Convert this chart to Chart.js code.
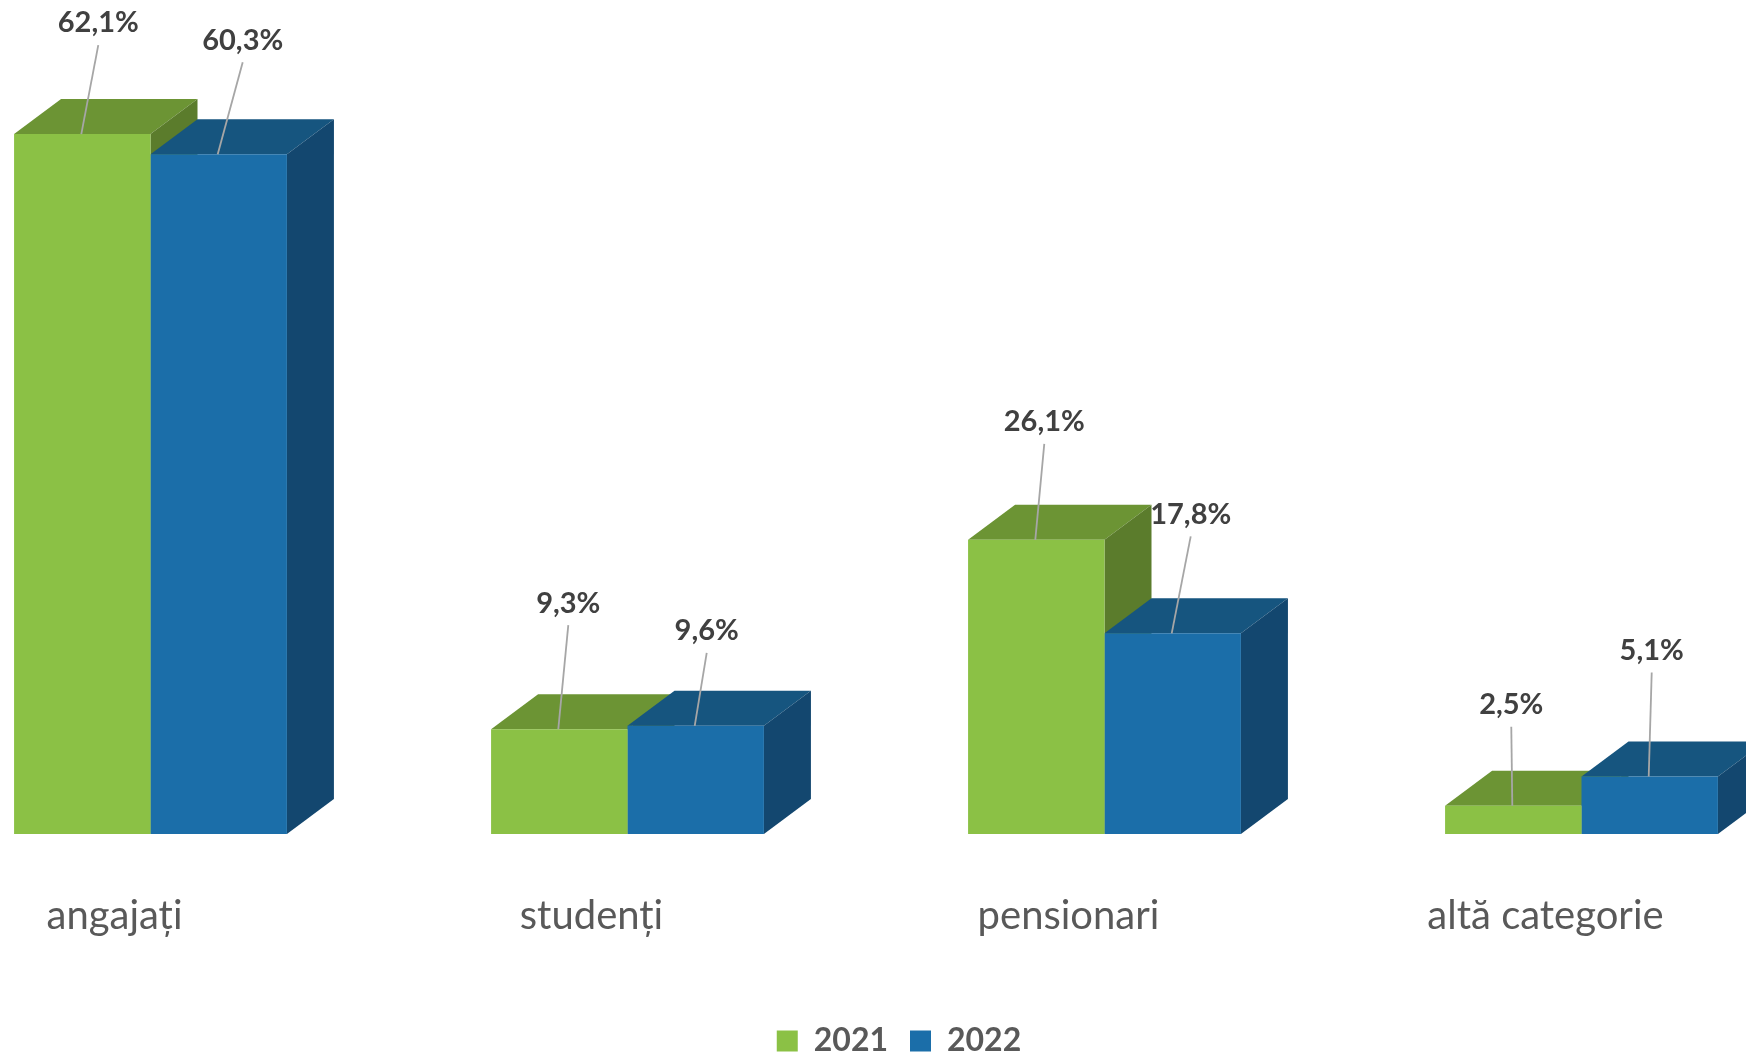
<!DOCTYPE html>
<html lang="ro">
<head>
<meta charset="utf-8">
<title>Categorii 2021 - 2022</title>
<style>
  html, body { margin: 0; padding: 0; background: #fff; overflow: hidden; width: 1746px; height: 1056px; }
  /* plot runs past both page edges in the original, last bar gets cut */
  canvas { display: block; position: absolute; left: -88px; top: 0; }
</style>
<script src="https://cdn.jsdelivr.net/npm/chart.js@4"></script>
</head>
<body>
<canvas id="chart" width="1908" height="1056"></canvas>
<script>
  var categories = ['angajați', 'studenți', 'pensionari', 'altă categorie'];
  var values2021 = [62.1, 9.3, 26.1, 2.5];
  var values2022 = [60.3, 9.6, 17.8, 5.1];
  var seriesNames = ['2021', '2022'];

  /* where the callouts were dragged to, relative to the top of each bar */
  var labelShift2021 = [[16, -111], [9, -126], [8, -118], [-2, -101]];
  var labelShift2022 = [[24, -114], [11, -95], [18, -119], [2, -126]];

  var FONT = "Lato, 'Open Sans', sans-serif";
  var DEPTH_X = 47, DEPTH_Y = 35;
  var LEGEND_SHIFT_X = 33, LEGEND_SHIFT_Y = 11;
  var faces = [
    { top: '#6C9434', side: '#5B7C2C' },
    { top: '#16557F', side: '#13476F' }
  ];

  function poly(ctx, pts, color) {
    ctx.fillStyle = color;
    ctx.beginPath();
    pts.forEach(function (p, i) {
      if (i) ctx.lineTo(p[0], p[1]); else ctx.moveTo(p[0], p[1]);
    });
    ctx.closePath();
    ctx.fill();
  }

  /* fake 3D: top and side faces, painted behind the real bars */
  var depthFaces = {
    id: 'depthFaces',
    beforeDatasetsDraw: function (chart) {
      var ctx = chart.ctx;
      ctx.save();
      categories.forEach(function (c, i) {
        [0, 1].forEach(function (d) {
          var bar = chart.getDatasetMeta(d).data[i];
          var l = bar.x - bar.width / 2, r = bar.x + bar.width / 2;
          poly(ctx, [[l, bar.y], [r, bar.y], [r + DEPTH_X, bar.y - DEPTH_Y], [l + DEPTH_X, bar.y - DEPTH_Y]], faces[d].top);
          poly(ctx, [[r, bar.y], [r + DEPTH_X, bar.y - DEPTH_Y], [r + DEPTH_X, bar.base - DEPTH_Y], [r, bar.base]], faces[d].side);
        });
      });
      ctx.restore();
    }
  };

  var callouts = {
    id: 'callouts',
    afterDatasetsDraw: function (chart) {
      var ctx = chart.ctx;
      ctx.save();
      ctx.font = 'bold 29px ' + FONT;
      ctx.textAlign = 'center';
      ctx.textBaseline = 'middle';
      [[values2021, labelShift2021], [values2022, labelShift2022]].forEach(function (s, d) {
        s[0].forEach(function (v, i) {
          var bar = chart.getDatasetMeta(d).data[i];
          var lx = bar.x + s[1][i][0], ly = bar.y + s[1][i][1];
          ctx.strokeStyle = '#A6A6A6';
          ctx.lineWidth = 1.8;
          ctx.beginPath();
          ctx.moveTo(lx, ly + 22);
          ctx.lineTo(bar.x - 1, bar.y);
          ctx.stroke();
          ctx.fillStyle = '#404040';
          ctx.fillText(v.toFixed(1).replace('.', ',') + '%', lx, ly);
        });
      });
      ctx.restore();
    }
  };

  /* legend sits off-centre in the original */
  var legendNudge = {
    id: 'legendNudge',
    afterLayout: function (chart) {
      var lg = chart.legend;
      lg.left += LEGEND_SHIFT_X;
      lg.right += LEGEND_SHIFT_X;
      lg.top += LEGEND_SHIFT_Y;
      lg.bottom += LEGEND_SHIFT_Y;
    }
  };

  new Chart(document.getElementById('chart'), {
    type: 'bar',
    data: {
      labels: categories,
      datasets: [
        { label: seriesNames[0], data: values2021, backgroundColor: '#8BC145' },
        { label: seriesNames[1], data: values2022, backgroundColor: '#1B6EA9' }
      ]
    },
    plugins: [depthFaces, callouts, legendNudge],
    options: {
      responsive: false,
      animation: false,
      layout: { padding: { top: 45 } },
      datasets: { bar: { categoryPercentage: 0.572, barPercentage: 1, borderWidth: 0 } },
      scales: {
        x: {
          grid: { display: false, drawTicks: false },
          border: { display: false },
          ticks: {
            font: { family: FONT, size: 40 },
            color: '#595959',
            padding: 58,
            labelOffset: -36,
            autoSkip: false,
            maxRotation: 0
          },
          afterFit: function (scale) { scale.height = 158; }
        },
        y: { display: false, min: 0, max: 70 }
      },
      plugins: {
        tooltip: { enabled: false },
        legend: {
          position: 'bottom',
          labels: {
            font: { family: FONT, size: 32, weight: 'bold' },
            color: '#595959',
            boxWidth: 21,
            boxHeight: 21,
            padding: 22
          }
        }
      }
    }
  });
</script>
</body>
</html>
